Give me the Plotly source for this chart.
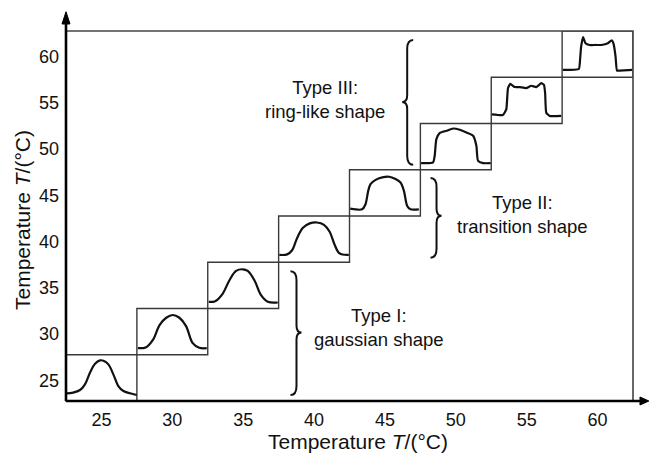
import plotly.graph_objects as go

# Temperatures of the recorded profiles (box centres on both axes)
temps = [25, 30, 35, 40, 45, 50, 55, 60]
tick_labels = ["25", "30", "35", "40", "45", "50", "55", "60"]

# Each profile is traced inside its 5 x 5 box: u runs across the box, v up from its floor
prof25_u = [0.05, 0.50, 0.99, 1.34, 1.69, 2.05, 2.40, 2.64, 2.99, 3.34, 3.69, 4.05, 4.52, 4.99]
prof25_v = [0.83, 0.90, 1.19, 1.80, 3.06, 4.03, 4.39, 4.35, 3.96, 2.88, 1.62, 1.08, 0.83, 0.65]

prof30_u = [0.07, 0.66, 1.13, 1.60, 2.07, 2.54, 3.00, 3.47, 3.94, 4.40, 4.93]
prof30_v = [0.71, 0.82, 1.60, 3.20, 4.00, 4.30, 4.00, 3.10, 1.25, 0.75, 0.71]

prof35_u = [0.07, 0.52, 1.06, 1.53, 2.00, 2.47, 2.82, 3.29, 3.76, 4.24, 4.94]
prof35_v = [0.72, 0.79, 1.62, 3.06, 4.06, 4.24, 4.06, 3.06, 1.44, 0.72, 0.65]

prof40_u = [0.05, 0.60, 0.95, 1.30, 1.70, 2.20, 2.70, 3.20, 3.60, 3.95, 4.30, 4.95]
prof40_v = [0.80, 0.85, 1.30, 2.60, 3.70, 4.20, 4.30, 4.05, 3.30, 1.90, 0.95, 0.80]

prof45_u = [0.05, 0.89, 1.13, 1.32, 1.48, 1.84, 2.31, 2.78, 3.25, 3.60, 3.84, 4.07, 4.31, 4.89]
prof45_v = [0.80, 0.72, 1.27, 2.72, 3.44, 3.91, 4.17, 4.24, 3.99, 3.62, 2.72, 1.09, 0.72, 0.72]

prof50_u = [0.05, 0.89, 1.01, 1.13, 1.36, 1.84, 2.31, 2.78, 3.25, 3.72, 3.95, 4.07, 4.42, 4.96]
prof50_v = [0.72, 0.79, 1.51, 3.31, 3.96, 4.21, 4.46, 4.32, 4.03, 3.67, 2.59, 0.97, 0.72, 0.72]

prof55_u = [0.05, 0.82, 1.06, 1.18, 1.34, 1.65, 2.00, 2.47, 2.82, 3.18, 3.53, 3.72, 3.80, 3.88, 4.12, 4.94]
prof55_v = [0.99, 0.92, 1.52, 3.83, 4.29, 3.94, 3.94, 3.83, 4.08, 3.94, 4.36, 4.18, 3.30, 1.17, 0.82, 0.82]

prof60_u = [0.05, 1.18, 1.27, 1.34, 1.48, 1.65, 1.93, 2.35, 2.76, 3.23, 3.50, 3.63, 3.77, 3.87, 4.06, 4.95]
prof60_v = [0.79, 0.90, 2.00, 3.30, 4.35, 3.67, 3.49, 3.49, 3.49, 3.67, 4.00, 3.60, 2.23, 0.72, 0.72, 0.79]

profiles_u = [prof25_u, prof30_u, prof35_u, prof40_u, prof45_u, prof50_u, prof55_u, prof60_u]
profiles_v = [prof25_v, prof30_v, prof35_v, prof40_v, prof45_v, prof50_v, prof55_v, prof60_v]
smooth = [1.0, 1.0, 1.0, 1.0, 0.8, 0.6, 0.4, 0.4]

# Shape classes labelled beside their braces
type_texts = ["Type I:<br>gaussian shape", "Type II:<br>transition shape", "Type III:<br>ring-like shape"]

# ---- layout geometry ----
X_RANGE = [22.5, 62.5]
Y_RANGE = [22.75, 62.75]
ML, MR, MT, MB = 66, 17, 31, 52
W, H = 650, 453
PW, PH = W - ML - MR, H - MT - MB
SX = PW / (X_RANGE[1] - X_RANGE[0])   # px per unit
SY = PH / (Y_RANGE[1] - Y_RANGE[0])
HALF = 2.5
Y_SHIFT = 0.25
FONT = "Liberation Sans, Arial, Helvetica, sans-serif"

fig = go.Figure()

shapes = []
for t in temps:
    shapes.append(dict(type="rect", xref="x", yref="y",
                       x0=t - HALF, x1=t + HALF,
                       y0=t - HALF + Y_SHIFT, y1=t + HALF + Y_SHIFT,
                       line=dict(color="#3a3a3a", width=1.4), layer="below"))

for t, us, vs, sm in zip(temps, profiles_u, profiles_v, smooth):
    x0 = t - HALF
    y0 = t - HALF + Y_SHIFT
    fig.add_trace(go.Scatter(
        x=[x0 + u for u in us], y=[y0 + v for v in vs],
        mode="lines", line=dict(color="#111111", width=2.2, shape="spline", smoothing=sm),
        hoverinfo="skip", showlegend=False))


def brace(xc, y_top, y_bot, y_tip, facing):
    """Curly brace path in data units; facing=+1 points right, -1 points left."""
    hook = 6 / SX
    tip = 5 / SX
    r = 9 / SY
    tr = 7 / SY
    hx = xc - facing * hook
    tx = xc + facing * tip
    return (f"M{hx},{y_top} Q{xc},{y_top} {xc},{y_top - r} "
            f"L{xc},{y_tip + tr} Q{xc},{y_tip} {tx},{y_tip} "
            f"Q{xc},{y_tip} {xc},{y_tip - tr} "
            f"L{xc},{y_bot + r} Q{xc},{y_bot} {hx},{y_bot}")


braces = [
    (38.76, 36.77, 23.40, 30.16, 1),
    (48.64, 46.85, 38.25, 42.78, 1),
    (46.57, 61.77, 48.28, 55.08, -1),
]
for xc, yt, yb, ym, f in braces:
    shapes.append(dict(type="path", xref="x", yref="y", path=brace(xc, yt, yb, ym, f),
                       line=dict(color="#111111", width=2), fillcolor="rgba(0,0,0,0)"))

# thin frame on top and right
shapes.append(dict(type="rect", xref="paper", yref="paper", x0=0, x1=1, y0=0, y1=1,
                   line=dict(color="#444444", width=1.6)))

# axis lines with arrowheads
ax_w = 4 / PW
ax_h = 4 / PH
shapes += [
    dict(type="line", xref="paper", yref="paper", x0=0, x1=0, y0=0, y1=1.03,
         line=dict(color="#000000", width=2.6)),
    dict(type="path", xref="paper", yref="paper",
         path=f"M{-ax_w},1.019 L0,1.052 L{ax_w},1.019 Z",
         fillcolor="#000000", line=dict(color="#000000", width=1)),
    dict(type="line", xref="paper", yref="paper", x0=0, x1=1.018, y0=0, y1=0,
         line=dict(color="#000000", width=2.6)),
    dict(type="path", xref="paper", yref="paper",
         path=f"M1.0123,{-ax_h} L1.028,0 L1.0123,{ax_h} Z",
         fillcolor="#000000", line=dict(color="#000000", width=1)),
]

annotations = []
text_pos = [(44.6, 30.7), (54.7, 42.9), (40.8, 55.3)]
for (tx, ty), txt in zip(text_pos, type_texts):
    annotations.append(dict(x=tx, y=ty, xref="x", yref="y", text=txt, showarrow=False,
                            align="center", xanchor="center", yanchor="middle",
                            font=dict(family=FONT, size=18.5, color="#111111")))

annotations.append(dict(x=(358 - ML) / PW, y=-(441 - (MT + PH)) / PH, xref="paper", yref="paper",
                        text="Temperature <i>T</i>/(°C)", showarrow=False,
                        xanchor="center", yanchor="middle",
                        font=dict(family=FONT, size=21, color="#111111")))
annotations.append(dict(x=(22 - ML) / PW, y=((MT + PH) - 220) / PH, xref="paper", yref="paper",
                        text="Temperature <i>T</i>/(°C)", showarrow=False, textangle=-90,
                        xanchor="center", yanchor="middle",
                        font=dict(family=FONT, size=21, color="#111111")))

fig.update_layout(
    width=W, height=H,
    margin=dict(l=ML, r=MR, t=MT, b=MB, pad=0),
    paper_bgcolor="white", plot_bgcolor="white",
    showlegend=False,
    shapes=shapes, annotations=annotations,
    xaxis=dict(range=X_RANGE, showgrid=False, zeroline=False, showline=False,
               tickvals=temps, ticktext=tick_labels, ticks="",
               tickfont=dict(family=FONT, size=18, color="#111111"),
               ticklabelstandoff=6, fixedrange=True),
    yaxis=dict(range=Y_RANGE, showgrid=False, zeroline=False, showline=False,
               tickvals=temps, ticktext=tick_labels, ticks="",
               tickfont=dict(family=FONT, size=18, color="#111111"),
               ticklabelstandoff=6, fixedrange=True),
)

fig.write_html("out.html")
